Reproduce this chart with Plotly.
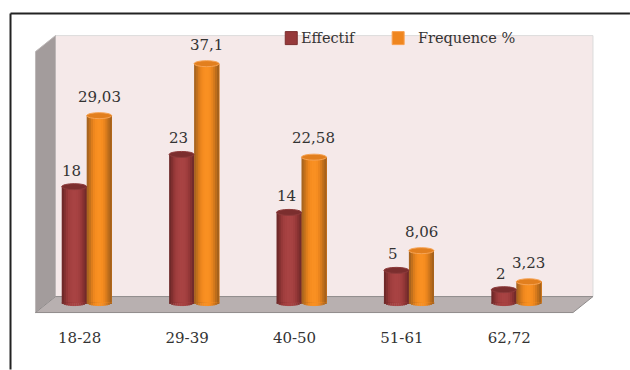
import math
import plotly.graph_objects as go

# Data
categories = ["18-28", "29-39", "40-50", "51-61", "62,72"]
effectif = [18, 23, 14, 5, 2]
frequence = [29.03, 37.1, 22.58, 8.06, 3.23]

# Horizontal shading across each cylinder, left edge to right edge
red_shades = ["#6f2929", "#823030", "#953838", "#a03e3e", "#a54141", "#a84343",
              "#a84343", "#a64242", "#a03e3e", "#953838", "#853131", "#722b2b"]
orange_shades = ["#a9651f", "#c2701c", "#dc7d1c", "#ee871e", "#f68d20", "#f99022",
                 "#f99022", "#f68d20", "#ea851e", "#d67a1c", "#bd6d1b", "#a6621c"]

W, H = 630, 370
LEFT, RIGHT = 25.5, 563.0   # plot area in page pixels
TOP, BOTTOM = 45.4, 309.44
Y_MIN, Y_MAX = -1, 40       # room below zero for the cylinders' rounded feet
FONT = "DejaVu Serif"
INK = "#333333"
BAR_W = 25 / 107.5
PAIR_SHIFT = 7 / 107.5      # bars sit slightly right of their tick


def px(x):
    return (x - LEFT) / (RIGHT - LEFT)


def py(y):
    return (BOTTOM - y) / (BOTTOM - TOP)


def polygon(points, fill, line=None, width=1):
    path = "M" + "L".join(f"{px(x):.5f},{py(y):.5f}" for x, y in points) + "Z"
    return dict(type="path", xref="paper", yref="paper", path=path, fillcolor=fill,
                line=dict(color=line or fill, width=width), layer="below")


fig = go.Figure()
shapes = [
    # Back wall, side wall and floor of the box
    polygon([(55, 36), (593, 36), (593, 297), (55, 297)], "#f5e9e9", "#dcdcdc"),
    polygon([(35, 52), (55, 36), (55, 297), (35, 313)], "#a39c9c", "#bdb8b8"),
    polygon([(35, 313), (55, 297), (593, 297), (573, 313)], "#b8b0b0", "#8f8b8b"),
]

series = [("Effectif", effectif, red_shades, -BAR_W, "#7b2e2e", "#8d3b3b"),
          ("Frequence %", frequence, orange_shades, 0.0, "#e27f1e", "#f6a354")]

for name, values, shades, start, cap, rim in series:
    n = len(shades)
    for i, shade in enumerate(shades):
        left = PAIR_SHIFT + start + BAR_W * i / n
        right = PAIR_SHIFT + start + BAR_W
        # Each strip runs to the cylinder's right edge so no seams show
        fig.add_trace(go.Bar(x=categories, y=values, name=name, offset=left,
                             width=right - left, marker=dict(color=shade, line_width=0),
                             showlegend=False, hoverinfo="x+y"))
        # Rounded underside of the cylinder at the baseline
        u = (i + 0.5) / n * 2 - 1
        drop = 3.5 * math.sqrt(1 - u * u)
        for k in range(len(categories)):
            shapes.append(dict(type="rect", xref="x", yref="y", ysizemode="pixel", yanchor=0,
                               x0=k + left, x1=k + left + BAR_W / n + 0.003, y0=-drop, y1=0.5,
                               fillcolor=shade, line_width=0, layer="below"))
    # Elliptical top of the cylinder
    for k, v in enumerate(values):
        shapes.append(dict(type="circle", xref="x", yref="y", ysizemode="pixel", yanchor=v,
                           x0=k + PAIR_SHIFT + start, x1=k + PAIR_SHIFT + start + BAR_W,
                           y0=-3, y1=3, fillcolor=cap, line=dict(color=rim, width=1)))

# Frame along the top and left of the page
shapes.append(dict(type="line", xref="paper", yref="paper", x0=px(10), x1=px(630), y0=py(14), y1=py(14),
                   line=dict(color="#222222", width=2)))
shapes.append(dict(type="line", xref="paper", yref="paper", x0=px(10), x1=px(10), y0=py(14), y1=py(370),
                   line=dict(color="#222222", width=2)))

# Legend swatches
for x0, color, rim in [(285, "#96393a", "#7b2e2e"), (392, "#ef861f", "#f9a050")]:
    shapes.append(dict(type="rect", xref="paper", yref="paper", x0=px(x0), x1=px(x0 + 12),
                       y0=py(32), y1=py(45), fillcolor=color, line=dict(color=rim, width=1)))

annotations = [
    dict(xref="paper", yref="paper", x=px(299), y=py(38.5), text="Effectif", showarrow=False,
         xanchor="left", yanchor="middle", font=dict(family=FONT, size=14.5, color=INK)),
    dict(xref="paper", yref="paper", x=px(416), y=py(38.5), text="Frequence %", showarrow=False,
         xanchor="left", yanchor="middle", font=dict(family=FONT, size=14.5, color=INK)),
]

# Value labels above the cylinders
for (name, values, shades, start, cap, rim), lift, nudge in [(series[0], 16, -3), (series[1], 19, 0)]:
    for k, v in enumerate(values):
        annotations.append(dict(x=k + PAIR_SHIFT + start + BAR_W / 2, y=v, xref="x", yref="y",
                                text=str(v).replace(".", ","), showarrow=False, xshift=nudge,
                                yshift=lift, font=dict(family=FONT, size=15, color=INK)))

fig.update_layout(
    width=W, height=H, autosize=False, showlegend=False, barmode="overlay",
    paper_bgcolor="white", plot_bgcolor="rgba(0,0,0,0)",
    margin=dict(l=LEFT, r=W - RIGHT, t=TOP, b=H - BOTTOM, pad=0),
    xaxis=dict(type="category", range=[-0.5, 4.5], categoryorder="array", categoryarray=categories,
               showgrid=False, zeroline=False, showline=False, ticks="", ticklabelstandoff=18,
               tickfont=dict(family=FONT, size=15, color=INK)),
    yaxis=dict(range=[Y_MIN, Y_MAX], visible=False),
    shapes=shapes, annotations=annotations,
)

fig.write_html("out.html", config=dict(displayModeBar=False))
